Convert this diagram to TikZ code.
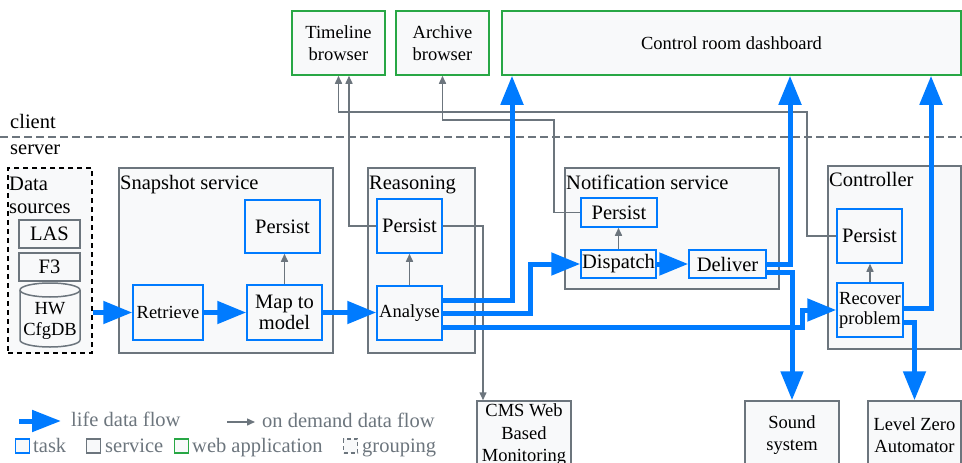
\documentclass[tikz,border=0pt]{standalone}
\usepackage{fontspec}
\setmainfont{Liberation Serif}
\newfontfamily\lser{Liberation Serif}
\usetikzlibrary{arrows.meta}
\definecolor{cblue}{HTML}{007BFF}
\definecolor{cgray}{HTML}{6C757D}
\definecolor{cgreen}{HTML}{28A745}
\definecolor{cfill}{HTML}{F8F9FA}
\newcommand\fA{\lser\fontsize{20.5}{21}\selectfont}
\newcommand\fB{\lser\fontsize{18.5}{21.5}\selectfont}
\begin{document}
\begin{tikzpicture}[x=1pt,y=-1pt,
 box/.style={draw, fill=cfill, line width=1.5pt, inner sep=0pt, align=center},
 task/.style={box, draw=cblue, font=\fA},
 tasks/.style={box, draw=cblue, font=\fB},
 svc/.style={box, draw=cgray},
 web/.style={box, draw=cgreen, font=\fB},
 ext/.style={svc, font=\fB},
 live/.style={draw=cblue, line width=5pt, -{Triangle[length=29pt,width=22pt]}},
 demand/.style={draw=cgray, line width=1.5pt, -{Triangle[length=8pt,width=7pt]}},
 lbl/.style={anchor=base west, inner sep=0pt, font=\fA},
 leg/.style={lbl, text=cgray},
 sq/.style={fill=cfill, line width=1.5pt, minimum size=14pt, inner sep=0pt},
]
\useasboundingbox (0,0) rectangle (962,463);

% client / server separator
\coordinate (sepL) at (0,137);
\coordinate (sepR) at (962,137);
\draw[cgray, line width=1.5pt, dash pattern=on 8pt off 4pt] (sepL) -- (sepR);
\node[lbl] (client) at (10,128) {client};
\node[lbl] (server) at (10,154) {server};

% web applications
\node[web, minimum width=93pt, minimum height=64pt] (tl) at (338.5,43) {Timeline\\browser};
\node[web, minimum width=93pt, minimum height=64pt] (ab) at (442.5,43) {Archive\\browser};
\node[web, minimum width=459pt, minimum height=64pt] (dash) at (731.5,43) {Control room dashboard};

% data sources
\node[draw=black, fill=cfill, line width=1.5pt, dash pattern=on 5pt off 4pt, minimum width=84pt, minimum height=185pt, inner sep=0pt] (ds) at (50,260.5) {};
\node[lbl] (dst1) at (9,190) {Data};
\node[lbl] (dst2) at (9,213) {sources};
\node[svc, font=\fA, minimum width=61pt, minimum height=28pt] (las) at (49.5,234) {LAS};
\node[svc, font=\fA, minimum width=61pt, minimum height=28pt] (f3) at (49.5,267) {F3};
\draw[cgray, fill=cfill, line width=1.5pt] (20,290) -- (20,340)
  arc[start angle=180, end angle=0, x radius=30, y radius=7] -- (80,290)
  arc[start angle=0, end angle=-180, x radius=30, y radius=7] -- cycle;
\draw[cgray, line width=1.5pt] (20,290) arc[start angle=180, end angle=0, x radius=30, y radius=7];
\node[font=\fB, align=center, inner sep=0pt] (hw) at (50,321) {HW\\CfgDB};

% services
\node[svc, minimum width=214pt, minimum height=185pt] (snap) at (226,260.5) {};
\node[lbl] (snapt) at (120,189) {Snapshot service};
\node[svc, minimum width=107pt, minimum height=185pt] (reas) at (421.5,260.5) {};
\node[lbl] (reast) at (369,189) {Reasoning};
\node[svc, minimum width=214pt, minimum height=121pt] (notif) at (672,228.5) {};
\node[lbl] (notift) at (566,189) {Notification service};
\node[svc, minimum width=133pt, minimum height=183pt] (ctrl) at (894.5,257.5) {};
\node[lbl] (ctrlt) at (829,186) {Controller};

% tasks
\node[task, minimum width=75pt, minimum height=53pt] (sp) at (282.5,226.5) {Persist};
\node[tasks, minimum width=70pt, minimum height=55pt] (ret) at (168,312.5) {Retrieve};
\node[task, minimum width=75pt, minimum height=55pt] (map) at (284.5,312.5) {Map to\\model};
\node[task, minimum width=65pt, minimum height=54pt] (rp) at (409.5,226) {Persist};
\node[tasks, minimum width=65pt, minimum height=54pt] (an) at (409.5,313) {Analyse};
\node[task, minimum width=76pt, minimum height=29pt] (np) at (619,212.5) {Persist};
\node[task, minimum width=75pt, minimum height=28pt] (disp) at (618.5,264) {Dispatch};
\node[task, minimum width=77pt, minimum height=28pt] (del) at (727.5,264) {Deliver};
\node[task, minimum width=65pt, minimum height=54pt] (cp) at (869.5,236) {Persist};
\node[box, draw=cblue, font=\lser\fontsize{18.5}{20}\selectfont, minimum width=66pt, minimum height=54pt] (rec) at (870,310) {Recover\\problem};

% external systems
\node[ext, minimum width=94pt, minimum height=68pt, font=\lser\fontsize{18.5}{22.5}\selectfont] (cms) at (524,435) {CMS Web\\Based\\Monitoring};
\node[ext, minimum width=94pt, minimum height=68pt, font=\lser\fontsize{18.5}{22}\selectfont] (sound) at (792,435) {Sound\\system};
\node[ext, minimum width=93pt, minimum height=68pt, font=\lser\fontsize{18.5}{22}\selectfont] (lza) at (914.5,435) {Level Zero\\Automator};

% on demand data flow
\draw[demand] (map.north) -- (map.north |- sp.south);
\draw[demand] (an.north) -- (rp.south);
\draw[demand] (disp.north) -- (disp.north |- np.south);
\draw[demand] (rec.north) -- (rec.north |- cp.south);
\coordinate (g1) at (349,0);
\draw[demand] (rp.west) -- (rp.west -| g1) -- (g1 |- tl.south);
\coordinate (g2) at (483,0);
\draw[demand] (rp.east) -- (rp.east -| g2) -- (g2 |- cms.north);
\coordinate (g3) at (554,120);
\draw[demand] (np.west) -- (np.west -| g3) -- (g3) -- (g3 -| ab.south) -- (ab.south);
\coordinate (g4) at (807,112);
\draw[demand] (cp.west) -- (cp.west -| g4) -- (g4) -- (g4 -| tl.south) -- (tl.south);

% life data flow
\draw[live] (ds.east |- ret.west) -- (ret.west);
\draw[live] (ret.east) -- (map.west);
\draw[live] (map.east) -- (an.west |- map.east);
\coordinate (c1) at (512,300);
\draw[live] (an.east |- c1) -- (c1) -- (c1 |- dash.south);
\coordinate (c2) at (530,0);
\draw[live] (an.east) -- (an.east -| c2) -- (c2 |- disp.west) -- (disp.west);
\coordinate (c3) at (802,327);
\draw[live] (an.east |- c3) -- (c3) -- (c3 |- rec.west) -- (rec.west);
\draw[live] (disp.east) -- (del.west);
\coordinate (c4) at (790,0);
\draw[live] (del.east) -- (del.east -| c4) -- (c4 |- dash.south);
\coordinate (c5) at (0,272);
\draw[live] (del.east |- c5) -- (sound.north |- c5) -- (sound.north);
\coordinate (c6) at (931,308);
\draw[live] (rec.east |- c6) -- (c6) -- (c6 |- dash.south);
\coordinate (c7) at (0,322);
\draw[live] (rec.east |- c7) -- (lza.north |- c7) -- (lza.north);

% legend
\coordinate (la1) at (19,421);
\coordinate (la2) at (61,421);
\draw[live, -{Triangle[length=29pt,width=21pt]}] (la1) -- (la2);
\node[leg] (lt1) at (71,426) {life data flow};
\coordinate (lb1) at (227,422);
\coordinate (lb2) at (255,422);
\draw[demand] (lb1) -- (lb2);
\node[leg] (lt2) at (262,427) {on demand data flow};
\node[sq, draw=cblue] (lsq1) at (22.5,446) {};
\node[leg] (lt3) at (33,452) {task};
\node[sq, draw=cgray] (lsq2) at (93.5,446) {};
\node[leg] (lt4) at (105,452) {service};
\node[sq, draw=cgreen] (lsq3) at (181.5,446) {};
\node[leg] (lt5) at (192,452) {web application};
\node[sq, draw=cgray, dash pattern=on 4pt off 3pt] (lsq4) at (350.5,446) {};
\node[leg] (lt6) at (362,452) {grouping};
\end{tikzpicture}
\end{document}
